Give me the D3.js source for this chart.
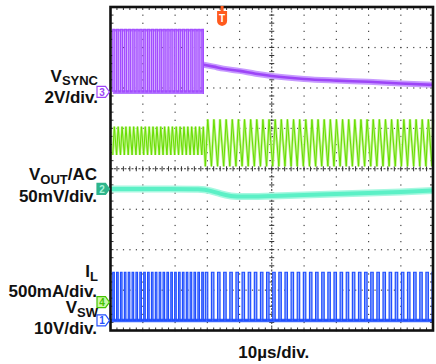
<!DOCTYPE html>
<html><head><meta charset="utf-8">
<script src="https://cdn.jsdelivr.net/npm/d3@7"></script>
<style>
body{margin:0;background:#fff}
svg{display:block}
text{font-family:"Liberation Sans",Arial,Helvetica,sans-serif}
</style>
</head><body>
<svg id="c" width="436" height="364"></svg>
<script>
// ---------------- data ----------------
const timeDomainUs = [-50, 50];          // 10 µs/div, 10 divisions
const divDomain = [-4, 4];               // 8 vertical divisions
const timeLabel = "10µs/div.";
const triggerUs = -15.4;

// channel 3 : VSYNC (2 V/div)
const vsyncVoltsPerDiv = 2;
const vsyncOffsetDiv = 1.9;
const syncStartUs = -49.3;
const syncStopUs = -21.2;
const syncPeriodUs = 1.2;
const syncLevelsV = [0, 3.1];
const vsyncDecayT = [-21.2, -18, -15, -10, -5, 0, 10, 20, 30, 40, 50];
const vsyncDecayV = [1.35, 1.25, 1.15, 1.04, 0.9, 0.79, 0.64, 0.56, 0.5, 0.42, 0.35];

// channel 1 : VSW (10 V/div)
const vswVoltsPerDiv = 10;
const vswOffsetDiv = -3.75;
const swPeriodUs = [1.2, 1.9];           // synchronised / free running
const swDuty = [0.4, 0.4];
const swLevelsV = [0, 11.9];

// channel 4 : IL (500 mA/div)
const ilAmpsPerDiv = 0.5;
const ilOffsetDiv = -3.3;
const ilValleyA = [1.82, 1.68];
const ilPeakA = [2.17, 2.26];

// channel 2 : VOUT/AC (50 mV/div)
const voutVoltsPerDiv = 0.05;
const voutOffsetDiv = -0.5;
const voutT = [-50, -30, -22, -19, -16, -13, -8, 0, 10, 20, 30, 40, 50];
const voutMv = [0, 0, 0, -2, -6, -9, -9.5, -8.7, -7.4, -6.2, -5, -3.7, -2];

// ---------------- drawing ----------------
const svg = d3.select("#c");
const L = 110.5, R = 433, T = 7, B = 330.5;
const x = d3.scaleLinear(timeDomainUs, [L, R]);
const y = d3.scaleLinear(divDomain, [B, T]);
const chY = (v, vpd, off) => y(v / vpd + off);

// grid
const g = svg.append("g");
const minorX = d3.range(timeDomainUs[0], timeDomainUs[1] + 0.001, 2);
const minorY = d3.range(divDomain[0], divDomain[1] + 0.001, 0.2);
const majorX = d3.range(-40, 41, 10), majorY = d3.range(-3, 4, 1);
majorX.filter(d => d !== 0).forEach(t => {
  minorY.forEach(v => g.append("rect").attr("x", x(t) - 0.5).attr("y", y(v) - 0.5)
    .attr("width", 1.2).attr("height", 1.2).attr("fill", "#444"));
});
majorY.filter(d => d !== 0).forEach(v => {
  minorX.forEach(t => g.append("rect").attr("x", x(t) - 0.5).attr("y", y(v) - 0.5)
    .attr("width", 1.2).attr("height", 1.2).attr("fill", "#444"));
});
// centre crosshair
g.append("line").attr("x1", x(0)).attr("x2", x(0)).attr("y1", T).attr("y2", B)
  .attr("stroke", "#333").attr("stroke-width", 1).attr("stroke-dasharray", "2,1.5");
g.append("line").attr("x1", L).attr("x2", R).attr("y1", y(0)).attr("y2", y(0))
  .attr("stroke", "#333").attr("stroke-width", 1).attr("stroke-dasharray", "2,1.5");
minorY.forEach(v => g.append("line").attr("x1", x(0) - 2.5).attr("x2", x(0) + 2.5)
  .attr("y1", y(v)).attr("y2", y(v)).attr("stroke", "#333"));
minorX.forEach(t => g.append("line").attr("y1", y(0) - 2.5).attr("y2", y(0) + 2.5)
  .attr("x1", x(t)).attr("x2", x(t)).attr("stroke", "#333"));
// border ticks
minorX.forEach(t => {
  g.append("line").attr("x1", x(t)).attr("x2", x(t)).attr("y1", T).attr("y2", T + 3).attr("stroke", "#333");
  g.append("line").attr("x1", x(t)).attr("x2", x(t)).attr("y1", B - 3).attr("y2", B).attr("stroke", "#333");
});
minorY.forEach(v => {
  g.append("line").attr("y1", y(v)).attr("y2", y(v)).attr("x1", L).attr("x2", L + 3).attr("stroke", "#333");
  g.append("line").attr("y1", y(v)).attr("y2", y(v)).attr("x1", R - 3).attr("x2", R).attr("stroke", "#333");
});

// switching edges
function pulses(t0, t1, period, duty) {
  const out = [];
  for (let t = t0; t < t1; t += period) out.push([t, Math.min(t + period * duty, t1)]);
  return out;
}
const swA = pulses(syncStartUs, syncStopUs, swPeriodUs[0], swDuty[0]);
const swB = pulses(syncStopUs + 0.6, timeDomainUs[1], swPeriodUs[1], swDuty[1]);
const allSw = swA.concat(swB);

const line = d3.line().x(d => x(d[0])).y(d => d[1]);

// ---- VSYNC (purple)
{
  const lo = chY(syncLevelsV[0], vsyncVoltsPerDiv, vsyncOffsetDiv);
  const hi = chY(syncLevelsV[1], vsyncVoltsPerDiv, vsyncOffsetDiv);
  const sp = pulses(syncStartUs, syncStopUs, syncPeriodUs, 0.55);
  const pts = [];
  sp.forEach(([a, b]) => { pts.push([a, lo], [a, hi], [b, hi], [b, lo]); });
  pts.push([syncStopUs, lo]);
  sp.forEach(([a, b]) => svg.append("rect").attr("x", x(a)).attr("y", hi)
    .attr("width", x(b) - x(a)).attr("height", lo - hi).attr("fill", "#c99bff"));
  svg.append("line").attr("x1", x(syncStartUs)).attr("x2", x(syncStopUs)).attr("y1", lo).attr("y2", lo)
    .attr("stroke", "#b57aff").attr("stroke-width", 4);
  svg.append("line").attr("x1", x(syncStartUs)).attr("x2", x(syncStopUs)).attr("y1", hi + 1).attr("y2", hi + 1)
    .attr("stroke", "#b57aff").attr("stroke-width", 2.5);
  svg.append("path").attr("d", line(pts)).attr("fill", "none").attr("stroke", "#a24bff").attr("stroke-width", 1.2);
  const dec = vsyncDecayT.map((t, i) => [t, chY(vsyncDecayV[i], vsyncVoltsPerDiv, vsyncOffsetDiv)]);
  const dl = d3.line().x(d => x(d[0])).y(d => d[1]).curve(d3.curveMonotoneX);
  svg.append("path").attr("d", dl(dec)).attr("fill", "none").attr("stroke", "#c79aff").attr("stroke-width", 6);
  svg.append("path").attr("d", dl(dec)).attr("fill", "none").attr("stroke", "#9d45f7").attr("stroke-width", 2.6);
  svg.append("line").attr("x1", x(syncStopUs)).attr("x2", x(syncStopUs)).attr("y1", hi).attr("y2", lo + 2)
    .attr("stroke", "#a24bff").attr("stroke-width", 1.2);
}

// ---- IL (green)
{
  const pts = [];
  swA.forEach(([a, b]) => {
    pts.push([a, chY(ilValleyA[0], ilAmpsPerDiv, ilOffsetDiv)], [b, chY(ilPeakA[0], ilAmpsPerDiv, ilOffsetDiv)]);
  });
  swB.forEach(([a, b]) => {
    pts.push([a, chY(ilValleyA[1], ilAmpsPerDiv, ilOffsetDiv)], [b, chY(ilPeakA[1], ilAmpsPerDiv, ilOffsetDiv)]);
  });
  svg.append("path").attr("d", line(pts)).attr("fill", "none").attr("stroke", "#c4f590").attr("stroke-width", 2.6);
  svg.append("path").attr("d", line(pts)).attr("fill", "none").attr("stroke", "#66dd00").attr("stroke-width", 1);
}

// ---- VOUT (teal)
{
  const pts = voutT.map((t, i) => [t, chY(voutMv[i] / 1000, voutVoltsPerDiv, voutOffsetDiv)]);
  const vl = d3.line().x(d => x(d[0])).y(d => d[1]).curve(d3.curveBasis);
  svg.append("path").attr("d", vl(pts)).attr("fill", "none").attr("stroke", "#a6f8e0").attr("stroke-width", 7);
  svg.append("path").attr("d", vl(pts)).attr("fill", "none").attr("stroke", "#5cf0c6").attr("stroke-width", 4);
}

// ---- VSW (blue)
{
  const lo = chY(swLevelsV[0], vswVoltsPerDiv, vswOffsetDiv);
  const hi = chY(swLevelsV[1], vswVoltsPerDiv, vswOffsetDiv);
  allSw.forEach(([a, b]) => svg.append("rect").attr("x", x(a)).attr("y", hi)
    .attr("width", Math.max(0, x(b) - x(a))).attr("height", lo - hi).attr("fill", "#93acff"));
  svg.append("line").attr("x1", L).attr("x2", R).attr("y1", lo).attr("y2", lo)
    .attr("stroke", "#3a66ff").attr("stroke-width", 3.5);
  const pts = [];
  allSw.forEach(([a, b]) => { pts.push([a, lo], [a, hi], [b, hi], [b, lo]); });
  svg.append("path").attr("d", line(pts)).attr("fill", "none").attr("stroke", "#1f4dff").attr("stroke-width", 1.2);
}

// frame
svg.append("rect").attr("x", L).attr("y", T).attr("width", R - L).attr("height", B - T)
  .attr("fill", "none").attr("stroke", "#111").attr("stroke-width", 2.6);

// trigger marker
{
  const tx = x(triggerUs);
  svg.append("rect").attr("x", tx - 1.5).attr("y", T - 1).attr("width", 3).attr("height", 5).attr("fill", "#ff5a1e");
  svg.append("path").attr("d", `M${tx - 5},${T + 4} H${tx + 5} V${T + 14} Q${tx + 5},${T + 18} ${tx},${T + 19} Q${tx - 5},${T + 18} ${tx - 5},${T + 14} Z`)
    .attr("fill", "#ff5a1e");
  svg.append("text").attr("x", tx).attr("y", T + 15).attr("text-anchor", "middle")
    .attr("font-size", 10).attr("font-weight", "bold").attr("fill", "#fff").text("T");
}

// channel markers
function marker(yc, label, stroke, fill, textColor) {
  const x0 = 97, w = 12.5, h = 11;
  svg.append("path").attr("d", `M${x0},${yc - h / 2} H${x0 + w - 4} L${x0 + w},${yc} L${x0 + w - 4},${yc + h / 2} H${x0} Z`)
    .attr("fill", fill).attr("stroke", stroke).attr("stroke-width", 1.2);
  svg.append("text").attr("x", x0 + 5).attr("y", yc + 4).attr("text-anchor", "middle")
    .attr("font-size", 10).attr("font-weight", "bold").attr("fill", textColor).text(label);
}
marker(chY(0, vsyncVoltsPerDiv, vsyncOffsetDiv), "3", "#9d45f7", "#fff", "#9d45f7");
marker(chY(0, voutVoltsPerDiv, voutOffsetDiv), "2", "#2fb58c", "#2fb58c", "#a8f5dc");
marker(chY(0, ilAmpsPerDiv, ilOffsetDiv), "4", "#44c400", "#c9f7a8", "#44c400");
marker(chY(0, vswVoltsPerDiv, vswOffsetDiv), "1", "#2450ff", "#fff", "#2450ff");

// labels
function label(yb, parts, xr = 98) {
  const t = svg.append("text").attr("x", xr).attr("y", yb).attr("text-anchor", "end")
    .attr("font-size", 17).attr("font-weight", "bold").attr("fill", "#111");
  parts.forEach(p => {
    const s = t.append("tspan").text(p.text);
    if (p.size) s.attr("font-size", p.size);
    if (p.dy) s.attr("dy", p.dy);
  });
}
label(82, [{text: "V"}, {text: "SYNC", size: 13, dy: 3}]);
label(103, [{text: "2V/div."}]);
label(180, [{text: "V"}, {text: "OUT", size: 13, dy: 4}, {text: "/AC", dy: -4}], 97);
label(202, [{text: "50mV/div."}], 97);
label(277, [{text: "I"}, {text: "L", size: 13, dy: 4}]);
label(297, [{text: "500mA/div."}], 97);
label(313, [{text: "V"}, {text: "SW", size: 13, dy: 4}]);
label(334, [{text: "10V/div."}], 97);
svg.append("text").attr("x", x(0) + 2).attr("y", 358).attr("text-anchor", "middle")
  .attr("font-size", 17).attr("font-weight", "bold").attr("fill", "#111").text(timeLabel);
</script>
</body></html>
